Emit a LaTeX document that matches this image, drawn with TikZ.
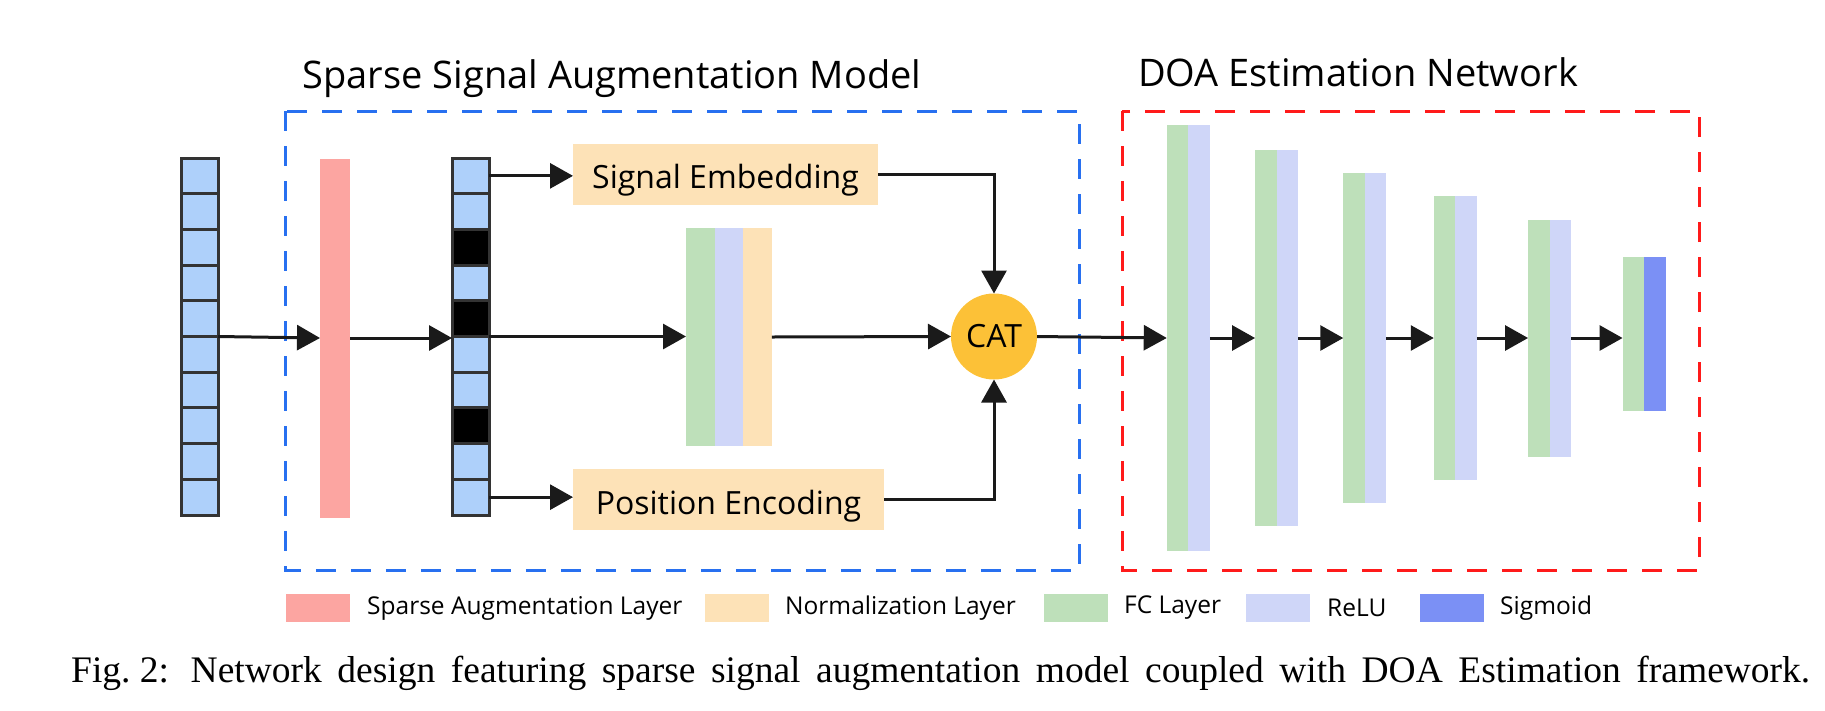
\documentclass[tikz,border=0pt]{standalone}
\usepackage{fontspec}
\setsansfont{Open Sans}
\newfontfamily\captionserif{Liberation Serif}
\usetikzlibrary{arrows.meta}

\definecolor{cellblue}{RGB}{174,208,250}
\definecolor{cellline}{RGB}{51,51,51}
\definecolor{sparsepink}{RGB}{252,165,161}
\definecolor{normpeach}{RGB}{253,226,183}
\definecolor{fcgreen}{RGB}{190,224,186}
\definecolor{relublue}{RGB}{207,214,248}
\definecolor{sigblue}{RGB}{123,144,245}
\definecolor{catyellow}{RGB}{252,193,55}
\definecolor{boxblue}{RGB}{40,112,240}
\definecolor{boxred}{RGB}{255,26,26}
\definecolor{arrowblack}{RGB}{26,26,26}

\tikzset{
  cell/.style={draw=cellline, line width=3pt, fill=cellblue, minimum width=37pt,
    minimum height=35.7pt, inner sep=0pt, outer sep=0pt},
  layer/.style={fill=#1, minimum width=21.5pt, inner sep=0pt, outer sep=0pt},
  textbox/.style={fill=normpeach, inner sep=0pt, outer sep=0pt, minimum height=61pt,
    text height=29pt, text depth=0pt, font=\sffamily\fontsize{32}{38}\selectfont},
  flow/.style={draw=arrowblack, line width=3pt, -{Triangle[length=23pt,width=25pt]}},
  groupbox/.style={draw=#1, line width=3pt, dash pattern=on 20pt off 15pt},
  keybox/.style={fill=#1, minimum width=64pt, minimum height=28pt, inner sep=0pt},
  keytext/.style={anchor=west, inner sep=0pt, font=\sffamily\fontsize{24.5}{28}\selectfont},
  heading/.style={anchor=base west, inner sep=0pt, font=\sffamily\fontsize{38}{44}\selectfont}
}

\begin{document}
\begin{tikzpicture}[x=1pt,y=-1pt]
\useasboundingbox (0,0) rectangle (1825,710);

% group boxes and their titles
\draw[groupbox=boxblue] (285.5,111) rectangle (1079,570.6);
\draw[groupbox=boxred] (1122,111) rectangle (1699,570.6);
\node[heading] (sigtitle) at (302.5,88) {Sparse Signal Augmentation Model};
\node[heading] (doatitle) at (1138,86) {DOA Estimation Network};

% input signal and sparse signal
\foreach \i in {1,...,10}
  \node[cell] (in-\i) at (199.5,{158+35.7*(\i-0.5)}) {};
\foreach \i in {1,...,10}
  \node[cell] (sp-\i) at (470.5,{158+35.7*(\i-0.5)}) {};
\foreach \i in {3,5,8}
  \node[cell, fill=black] at (sp-\i) {};

\node[layer=sparsepink, minimum width=30pt, minimum height=359pt] (aug) at (335,338) {};

% embedding branches
\node[textbox, minimum width=305pt] (embed) at (725.5,174.3) {Signal Embedding};
\node[textbox, minimum width=311pt] (posenc) at (728.5,499.5) {Position Encoding};
\node[layer=fcgreen, minimum width=28.6pt, minimum height=218pt] (midfc) at (700.3,337) {};
\node[layer=relublue, minimum width=28.6pt, minimum height=218pt, anchor=west] (midrelu) at (midfc.east) {};
\node[layer=normpeach, minimum width=28.6pt, minimum height=218pt, anchor=west] (midnorm) at (midrelu.east) {};
\node[circle, fill=catyellow, minimum size=86pt, inner sep=0pt, outer sep=0pt,
  font=\sffamily\fontsize{32}{38}\selectfont] (cat) at (994,336.5) {CAT};

% DOA layers
\foreach \i/\x/\h in {1/1177.5/426.6, 2/1265.8/376, 3/1354/329.5, 4/1444.5/284.5, 5/1538.8/237}{
  \node[layer=fcgreen, minimum height=\h pt] (fc\i) at (\x,338) {};
  \node[layer=relublue, minimum height=\h pt, anchor=west] (relu\i) at (fc\i.east) {};
}
\node[layer=fcgreen, minimum height=154pt] (fc6) at (1633.3,334) {};
\node[layer=sigblue, minimum height=154pt, anchor=west] (sig6) at (fc6.east) {};

% connectors
\draw[flow] (in-5.south east) -- (aug.west);
\draw[flow] (aug.east) -- (aug.east -| sp-5.west);
\draw[flow] (sp-1.east) -- (sp-1.east -| embed.west);
\draw[flow] (sp-10.east) -- (sp-10.east -| posenc.west);
\draw[flow] (sp-5.south east) -- (sp-5.south east -| midfc.west);
\draw[flow] (midnorm.east) -- (cat.west);
\draw[flow] (embed.east) -| (cat.north);
\draw[flow] (posenc.east) -| (cat.south);
\draw[flow] (cat.east) -- (fc1.west);
\foreach \i/\j in {1/2,2/3,3/4,4/5}
  \draw[flow] (relu\i.east) -- (fc\j.west);
\draw[flow] (relu5.east) -- (relu5.east -| fc6.west);

% legend
\node[keybox=sparsepink, anchor=west] (key1) at (285.5,608) {};
\node[keytext] (key1t) at (367,608) {Sparse Augmentation Layer};
\node[keybox=normpeach, anchor=west] (key2) at (705,608) {};
\node[keytext] (key2t) at (785,608) {Normalization Layer};
\node[keybox=fcgreen, anchor=west] (key3) at (1044,608) {};
\node[keytext] (key3t) at (1124,608) {FC Layer};
\node[keybox=relublue, anchor=west] (key4) at (1246,608) {};
\node[keytext] (key4t) at (1327,608) {ReLU};
\node[keybox=sigblue, anchor=west] (key5) at (1420,608) {};
\node[keytext] (key5t) at (1500,608) {Sigmoid};

% caption
\node[anchor=base west, inner sep=0pt, font=\captionserif\fontsize{37.5}{44}\selectfont] (caption) at (71,682)
  {\makebox[1739pt][s]{\mbox{Fig.\ 2:}\hspace{6pt} Network design featuring sparse signal augmentation model coupled with DOA Estimation framework.}};
\end{tikzpicture}
\end{document}
